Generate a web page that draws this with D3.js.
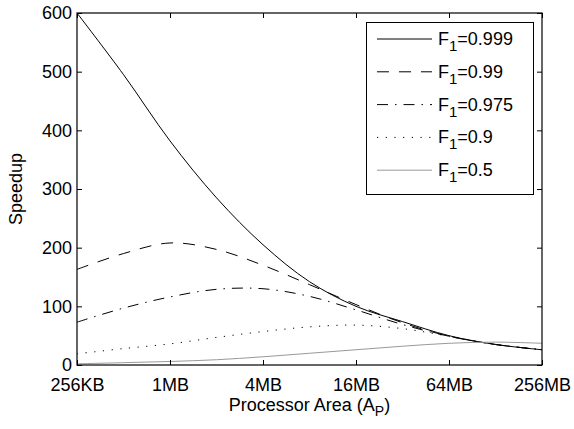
<!DOCTYPE html>
<html>
<head>
<meta charset="utf-8">
<script src="https://cdn.jsdelivr.net/npm/d3@7/dist/d3.min.js"></script>
<style>
  html, body { margin: 0; padding: 0; background: #fff; }
  svg { display: block; }
  text { font-family: "Liberation Sans", Arial, Helvetica, sans-serif; }
</style>
</head>
<body>
<svg id="chart" width="574" height="429"></svg>
<script>
// Processor area in KB (factor of 2 steps from 256KB to 256MB)
const areaKB = [256, 512, 1024, 2048, 4096, 8192, 16384, 32768, 65536, 131072, 262144];

// Speedup series
const f0999 = [600, 495, 382, 285, 205, 142, 100, 74, 50, 35, 26];
const f099  = [163, 190, 208, 197, 170, 137, 103, 72, 49, 35, 26];
const f0975 = [73, 97, 116, 129, 130, 117, 94, 69, 49, 35, 26];
const f09   = [19, 28, 36, 47, 57, 65, 68, 62, 49, 35, 26];
const f05   = [2, 4, 6, 9, 14, 20, 26, 32, 37, 39, 37];

const seriesNames = ["0.999", "0.99", "0.975", "0.9", "0.5"];

const xTickValues = [256, 1024, 4096, 16384, 65536, 262144];
const xTickLabels = ["256KB", "1MB", "4MB", "16MB", "64MB", "256MB"];
const yTickValues = [0, 100, 200, 300, 400, 500, 600];

const styles = [
  { color: "#000", dash: null },
  { color: "#000", dash: "12,10" },
  { color: "#000", dash: "11,7,1.5,7" },
  { color: "#000", dash: "1.2,7.5" },
  { color: "#999", dash: null }
];
const seriesData = [f0999, f099, f0975, f09, f05];

const svg = d3.select("#chart");
const L = 77, R = 542, T = 13, B = 365;

const x = d3.scaleLog().base(2).domain([256, 262144]).range([L, R]);
const y = d3.scaleLinear().domain([0, 600]).range([B, T]);

const fontSize = 18;

// lines
const line = d3.line()
  .x((d, i) => x(areaKB[i]))
  .y(d => y(d))
  .curve(d3.curveCatmullRom.alpha(0.5));

const plot = svg.append("g");
plot.append("clipPath").attr("id", "clip").append("rect")
  .attr("x", L).attr("y", T).attr("width", R - L).attr("height", B - T);

seriesData.forEach((vals, si) => {
  plot.append("path")
    .attr("clip-path", "url(#clip)")
    .attr("d", line(vals))
    .attr("fill", "none")
    .attr("stroke", styles[si].color)
    .attr("stroke-width", 1)
    .attr("stroke-dasharray", styles[si].dash);
});

// axes
const fmtX = d => xTickLabels[xTickValues.indexOf(d)];
const xb = svg.append("g").attr("transform", `translate(0,${B})`)
  .call(d3.axisBottom(x).tickValues(xTickValues).tickFormat(fmtX).tickSizeInner(-5).tickSizeOuter(0).tickPadding(13));
const xt = svg.append("g").attr("transform", `translate(0,${T})`)
  .call(d3.axisTop(x).tickValues(xTickValues).tickFormat("").tickSizeInner(-5).tickSizeOuter(0));
const yl = svg.append("g").attr("transform", `translate(${L},0)`)
  .call(d3.axisLeft(y).tickValues(yTickValues).tickSizeInner(-5).tickSizeOuter(0).tickPadding(5));
const yr = svg.append("g").attr("transform", `translate(${R},0)`)
  .call(d3.axisRight(y).tickValues(yTickValues).tickFormat("").tickSizeInner(-5).tickSizeOuter(0));

[xb, xt, yl, yr].forEach(g => {
  g.select(".domain").remove();
  g.selectAll("line").attr("stroke", "#000");
  g.selectAll("text").attr("font-size", fontSize).attr("fill", "#000")
    .attr("font-family", "'Liberation Sans', Arial, Helvetica, sans-serif");
});

svg.append("rect")
  .attr("x", L).attr("y", T).attr("width", R - L).attr("height", B - T)
  .attr("fill", "none").attr("stroke", "#000").attr("stroke-width", 1.2);

// axis labels
const xlab = svg.append("text")
  .attr("x", (L + R) / 2).attr("y", 411)
  .attr("text-anchor", "middle").attr("font-size", fontSize);
xlab.append("tspan").text("Processor Area (A");
xlab.append("tspan").attr("dy", 5).attr("font-size", 14).text("P");
xlab.append("tspan").attr("dy", -5).text(")");

svg.append("text")
  .attr("transform", `translate(22,${(T + B) / 2}) rotate(-90)`)
  .attr("text-anchor", "middle").attr("font-size", fontSize)
  .text("Speedup");

// legend
const lg = svg.append("g");
lg.append("rect").attr("x", 366.5).attr("y", 22.5).attr("width", 167).attr("height", 172)
  .attr("fill", "#fff").attr("stroke", "#000").attr("stroke-width", 1);
seriesNames.forEach((name, i) => {
  const cy = 39 + i * 32.8;
  lg.append("line").attr("x1", 377).attr("x2", 432).attr("y1", cy).attr("y2", cy)
    .attr("stroke", styles[i].color).attr("stroke-width", 1)
    .attr("stroke-dasharray", styles[i].dash);
  const t = lg.append("text").attr("x", 438).attr("y", cy + 6).attr("font-size", fontSize);
  t.append("tspan").text("F");
  t.append("tspan").attr("dy", 6).attr("font-size", 15).text("1");
  t.append("tspan").attr("dy", -6).text("=" + name);
});
</script>
</body>
</html>
